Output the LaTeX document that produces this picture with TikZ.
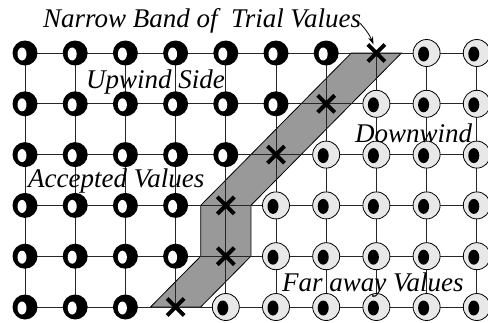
\documentclass[tikz,border=0pt]{standalone}
\usepackage{fontspec}
\setmainfont{Liberation Serif}
\usepackage{tikz}
\usetikzlibrary{arrows.meta, shapes.misc, backgrounds}

\begin{document}
\begin{tikzpicture}[x=50.2pt, y=50.8pt,
  accepted/.style = {circle, fill=black, minimum size=25pt, inner sep=0pt,
    path picture={\fill[white] ([xshift=-3pt,yshift=-1pt]path picture bounding box.center) ellipse (4.5pt and 6.5pt);}},
  far/.style = {circle, draw, line width=0.8pt, fill=black!9, minimum size=27pt, inner sep=0pt,
    path picture={\fill[black] ([xshift=-3pt,yshift=-1pt]path picture bounding box.center) ellipse (5.5pt and 7.5pt);}},
  trial/.style = {cross out, draw, line width=4pt, minimum size=13pt, inner sep=0pt},
  band/.style = {fill=black!40, draw=black, line width=0.8pt},
  grid/.style = {draw=black!85, line width=1pt},
  lbl/.style = {anchor=base west, inner sep=0pt, font=\fontsize{27}{31}\selectfont\itshape}]
\useasboundingbox (-25pt,53pt) rectangle (463pt,-269pt);
\foreach \r/\t in {0/7,1/6,2/5,3/4,4/4,5/3}{
  \foreach \c in {0,...,9}{
    \ifnum\c<\t \node[accepted] (n-\c-\r) at (\c,-\r) {};
    \else\ifnum\c=\t \node[trial] (n-\c-\r) at (\c,-\r) {};
    \else \node[far] (n-\c-\r) at (\c,-\r) {};
    \fi\fi
  }
}
\begin{pgfonlayer}{background}
\path[band] (6.5,0) -- (7.5,0) -- (4.5,-3) -- (4.5,-4) -- (3.5,-5) -- (2.5,-5) -- (3.5,-4) -- (3.5,-3) -- cycle;
\foreach \r in {0,...,5}
  \foreach \c [count=\d from 1] in {0,...,8}
    \draw[grid] (n-\c-\r.center) -- (n-\d-\r.center);
\foreach \c in {0,...,9}
  \foreach \r [count=\s from 1] in {0,...,4}
    \draw[grid] (n-\c-\r.center) -- (n-\c-\s.center);
\end{pgfonlayer}
\node[lbl] (title) at (18pt,26pt) {Narrow Band of\ \ Trial Values};
\node[lbl] (up) at (61pt,-35pt) {Upwind Side};
\node[lbl] (acc) at (3pt,-134pt) {Accepted Values};
\node[lbl] (down) at (330pt,-89pt) {Downwind};
\node[lbl] (farv) at (257pt,-238pt) {Far away Values};
\draw[-{Stealth[length=8pt,width=5pt]}, line width=0.8pt] ([xshift=-1pt,yshift=-3pt]title.east) to[bend left=10] (n-7-0);
\end{tikzpicture}
\end{document}
